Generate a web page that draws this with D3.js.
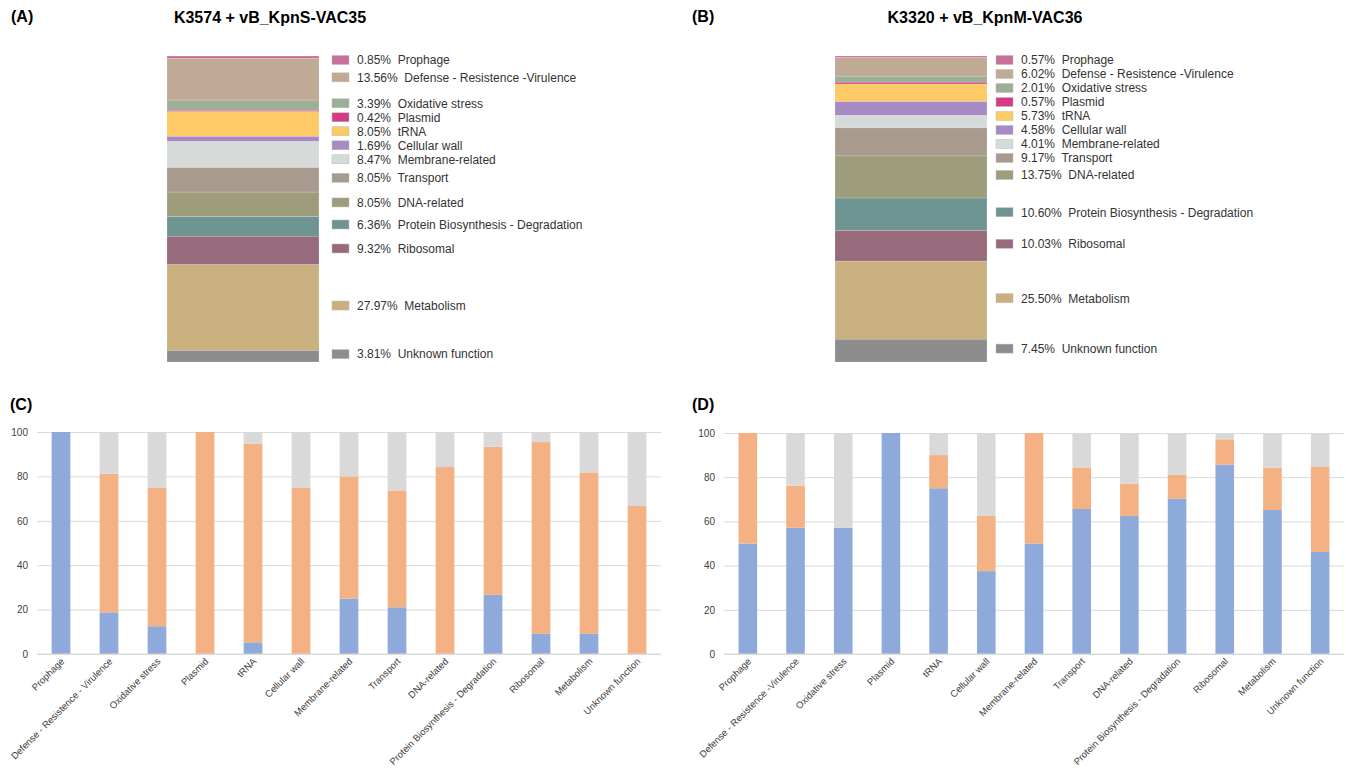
<!DOCTYPE html>
<meta charset="utf-8">
<style type="text/css">
    body{
        margin: 0;
        background: #fff;
    }
    svg{
        display: block;
    }
    .tick text{
        font-family: "Liberation Sans", Arial, sans-serif;
        font-size: 10px;
        fill: #404040;
    }
    .legend text{
        font-family: "Liberation Sans", Arial, sans-serif;
        font-size: 12px;
        fill: #333;
        white-space: pre;
    }
    .xlab{
        font-family: "Liberation Sans", Arial, sans-serif;
        font-size: 9.5px;
        fill: #404040;
    }
    .ptitle{
        font-family: "Liberation Sans", Arial, sans-serif;
        font-weight: bold;
        fill: #000;
    }
</style>
<body>
<script src="https://cdn.jsdelivr.net/npm/d3@7"></script>
<script>

//functional categories, same order in every panel
var categories = ["Prophage", "Defense - Resistence -Virulence", "Oxidative stress", "Plasmid", "tRNA",
  "Cellular wall", "Membrane-related", "Transport", "DNA-related", "Protein Biosynthesis - Degradation",
  "Ribosomal", "Metabolism", "Unknown function"];

//axis labels of the bottom charts (C spells the defense label a bit differently)
var labelsC = ["Prophage", "Defense - Resistence - Virulence", "Oxidative stress", "Plasmid", "tRNA",
  "Cellular wall", "Membrane-related", "Transport", "DNA-related", "Protein Biosynthesis - Degradation",
  "Ribosomal", "Metabolism", "Unknown function"];
var labelsD = categories;

//share of genes per category (%)
var pctA = [0.85, 13.56, 3.39, 0.42, 8.05, 1.69, 8.47, 8.05, 8.05, 6.36, 9.32, 27.97, 3.81];
var pctB = [0.57, 6.02, 2.01, 0.57, 5.73, 4.58, 4.01, 9.17, 13.75, 10.60, 10.03, 25.50, 7.45];

//stacked percentages, bottom to top: blue, orange, grey
var blueC   = [100, 18.75, 12.5, 0, 5.26, 0, 25, 21.05, 0, 26.67, 9.09, 9.09, 0];
var orangeC = [0, 62.5, 62.5, 100, 89.47, 75, 55, 52.63, 84.21, 66.67, 86.36, 72.73, 66.67];
var greyC   = [0, 18.75, 25, 0, 5.26, 25, 20, 26.32, 15.79, 6.67, 4.55, 18.18, 33.33];

var blueD   = [50, 57.14, 57.14, 100, 75, 37.5, 50, 65.63, 62.5, 70.27, 85.71, 65.17, 46.15];
var orangeD = [50, 19.05, 0, 0, 15, 25, 50, 18.75, 14.58, 10.81, 11.43, 19.1, 38.46];
var greyD   = [0, 23.81, 42.86, 0, 10, 37.5, 0, 15.63, 22.92, 18.92, 2.86, 15.73, 15.38];

var yTicks = [0, 20, 40, 60, 80, 100];

//colours for the category stacks
var catColors = ["#c96f9b", "#c1aa95", "#9daf96", "#d43b86", "#fdca66", "#a78ac3", "#d6dad9",
  "#a89b8d", "#9d9c7b", "#6f9593", "#976b7c", "#c9b07e", "#8d8d8d"];
var segColors = {blue: "#8eaadb", orange: "#f4b183", grey: "#d9d9d9"};


var svg = d3.select("body")
  .append("svg")
  .attr("width", 1346)
  .attr("height", 774);

svg.append("rect").attr("width", 1346).attr("height", 774).attr("fill", "#fff");

//panel letters and titles
function panelLabel(txt, x, y){
  svg.append("text").attr("class", "ptitle")
    .attr("x", x).attr("y", y)
    .style("font-size", "16px")
    .text(txt);
}
panelLabel("(A)", 11, 22);
panelLabel("(B)", 692, 22);
panelLabel("(C)", 10, 410);
panelLabel("(D)", 692, 410);

svg.append("text").attr("class", "ptitle")
  .attr("x", 270).attr("y", 23).attr("text-anchor", "middle")
  .style("font-size", "16px")
  .text("K3574 + vB_KpnS-VAC35");
svg.append("text").attr("class", "ptitle")
  .attr("x", 985).attr("y", 23).attr("text-anchor", "middle")
  .style("font-size", "16px")
  .text("K3320 + vB_KpnM-VAC36");


//single stacked column with a legend that follows the segments
function drawColumn(pct, x0, legendX){
  var y = d3.scaleLinear()
    .domain([0, d3.sum(pct)])
    .range([56, 362]);

  var ends = Array.from(d3.cumsum(pct));
  var rows = pct.map(function(v, i){
    return {name: categories[i], value: v, start: ends[i] - v, end: ends[i], color: catColors[i]};
  });

  var g = svg.append("g");

  g.selectAll("rect")
    .data(rows)
    .enter()
    .append("rect")
    .attr("x", x0)
    .attr("width", 152)
    .attr("y", function(d){ return y(d.start); })
    .attr("height", function(d){ return y(d.end) - y(d.start); })
    .attr("fill", function(d){ return d.color; })
    .attr("stroke", "#fff")
    .attr("stroke-opacity", 0.35)
    .attr("stroke-width", 0.5);

  //legend rows sit at segment centres, pushed down where they would collide
  var prev = -Infinity;
  rows.forEach(function(d){
    var c = (y(d.start) + y(d.end)) / 2;
    d.ly = Math.max(c - 2, prev + 14, 60);
    prev = d.ly;
  });

  var leg = svg.append("g").attr("class", "legend")
    .selectAll("g")
    .data(rows)
    .enter()
    .append("g")
    .attr("transform", function(d){ return "translate(" + legendX + "," + d.ly + ")"; });

  leg.append("rect")
    .attr("x", 0).attr("y", -4.5)
    .attr("width", 17).attr("height", 9)
    .attr("fill", function(d){ return d.color; })
    .attr("stroke", "#bbb")
    .attr("stroke-width", 0.5);

  leg.append("text")
    .attr("x", 25)
    .attr("dy", "0.36em")
    .text(function(d){ return d.value.toFixed(2) + "%  " + d.name; });
}

drawColumn(pctA, 167, 332);
drawColumn(pctB, 835, 996);


//percentage stacked bars
function drawStacked(blue, orange, grey, labels, left, right, top, bottom){
  var table = categories.map(function(c, i){
    return {cat: c, blue: blue[i], orange: orange[i], grey: grey[i]};
  });

  var x = d3.scaleBand()
    .domain(categories)
    .range([left, right])
    .paddingInner(0.61)
    .paddingOuter(0.305);

  var y = d3.scaleLinear()
    .domain([0, 100])
    .range([bottom, top]);

  var g = svg.append("g");

  //grid lines
  g.append("g")
    .attr("transform", "translate(" + left + ",0)")
    .call(d3.axisLeft(y).tickValues(yTicks).tickSize(-(right - left)).tickPadding(9))
    .call(function(a){
      a.select(".domain").remove();
      a.selectAll(".tick line").attr("stroke", "#d9d9d9");
      a.selectAll(".tick text").attr("dy", "0.32em");
    });

  var series = d3.stack().keys(["blue", "orange", "grey"])(table);

  g.selectAll(".layer")
    .data(series)
    .enter()
    .append("g")
    .attr("fill", function(d){ return segColors[d.key]; })
    .selectAll("rect")
    .data(function(d){ return d; })
    .enter()
    .append("rect")
    .attr("x", function(d){ return x(d.data.cat); })
    .attr("width", x.bandwidth())
    .attr("y", function(d){ return y(d[1]); })
    .attr("height", function(d){ return y(d[0]) - y(d[1]); });

  //baseline
  g.append("line")
    .attr("x1", left).attr("x2", right)
    .attr("y1", y(0)).attr("y2", y(0))
    .attr("stroke", "#d9d9d9");

  //rotated category labels
  g.selectAll(".xlab")
    .data(categories)
    .enter()
    .append("text")
    .attr("class", "xlab")
    .attr("text-anchor", "end")
    .attr("transform", function(d){
      return "translate(" + (x(d) + x.bandwidth() / 2 + 4) + "," + (bottom + 8) + ") rotate(-45)";
    })
    .text(function(d, i){ return labels[i]; });
}

drawStacked(blueC, orangeC, greyC, labelsC, 37, 661, 432, 654);
drawStacked(blueD, orangeD, greyD, labelsD, 724, 1344, 433, 654);

</script>
</body>
